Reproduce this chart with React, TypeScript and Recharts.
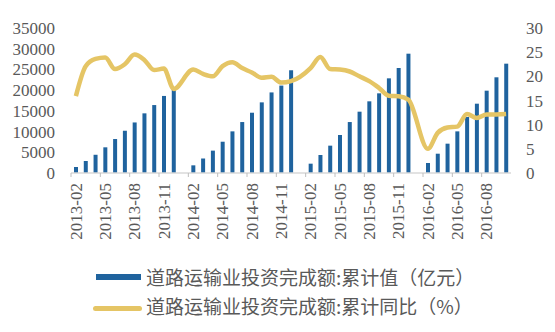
import { ComposedChart, Bar, Line, XAxis, YAxis } from 'recharts';

// 月份类目（每年 1 月无数据）
const months = [
  '2013-02', '2013-03', '2013-04', '2013-05', '2013-06', '2013-07', '2013-08', '2013-09', '2013-10', '2013-11', '2013-12',
  '2014-01', '2014-02', '2014-03', '2014-04', '2014-05', '2014-06', '2014-07', '2014-08', '2014-09', '2014-10', '2014-11', '2014-12',
  '2015-01', '2015-02', '2015-03', '2015-04', '2015-05', '2015-06', '2015-07', '2015-08', '2015-09', '2015-10', '2015-11', '2015-12',
  '2016-01', '2016-02', '2016-03', '2016-04', '2016-05', '2016-06', '2016-07', '2016-08', '2016-09', '2016-10',
];

// 累计值（亿元）
const cumValue = [
  1450, 2900, 4400, 6200, 8200, 10200, 12200, 14400, 16400, 18600, 20500,
  null, 1850, 3500, 5400, 7550, 10050, 12300, 14550, 17050, 19450, 21100, 24800,
  null, 2250, 4350, 6600, 9170, 12300, 14800, 17300, 19230, 22850, 25350, 28800,
  null, 2420, 4660, 7080, 10050, 13520, 16730, 19870, 23100, 26390,
];

// 累计同比（%）
const cumYoY = [
  15.9, 22.1, 23.6, 23.9, 21.5, 22.5, 24.5, 23.4, 21.3, 21.6, 17.4,
  null, 21.4, 20.5, 20.0, 22.1, 22.9, 21.7, 20.8, 19.7, 19.9, 18.7, 19.0,
  null, 21.7, 24.0, 21.5, 21.4, 21.0, 20.0, 19.0, 17.6, 16.0, 15.9, 15.2,
  null, 5.0, 8.3, 9.4, 9.6, 12.2, 11.4, 12.1, 12.1, 12.2,
];

const leftTicks = [0, 5000, 10000, 15000, 20000, 25000, 30000, 35000];
const rightTicks = [0, 5, 10, 15, 20, 25, 30];

const data = months.map((m, i) => ({ month: m, value: cumValue[i], yoy: cumYoY[i] }));

const BLUE = '#1F639E';
const GOLD = '#E5C565';
const GRAY = '#595959';
const AXIS_FONT = '"Liberation Serif", serif';
const CJK_FONT = '"Noto Sans CJK SC", sans-serif';

const PLOT_W = 440;
const band = PLOT_W / months.length;

function MonthTick(props: any) {
  const { x, y, payload } = props;
  return (
    <g>
      <line x1={x - band / 2} x2={x - band / 2} y1={y - 8} y2={y - 4} stroke="#BFBFBF" strokeWidth={1} />
      <text
        x={x}
        y={y + 2}
        transform={`rotate(-90, ${x}, ${y + 2})`}
        textAnchor="end"
        dy="0.35em"
        fill={GRAY}
        fontSize={17}
        fontFamily={AXIS_FONT}
      >
        {payload.value}
      </text>
    </g>
  );
}

export default function App() {
  return (
    <div style={{ position: 'fixed', left: 0, top: 0, width: 555, height: 332, background: '#fff' }}>
      <ComposedChart width={555} height={260} data={data} margin={{ top: 28, right: 0, bottom: 0, left: 0 }}>
        <XAxis
          dataKey="month"
          interval={2}
          height={87}
          tick={<MonthTick />}
          tickLine={false}
          axisLine={{ stroke: '#D9D9D9', strokeWidth: 1.5 }}
        />
        <YAxis
          yAxisId="left"
          width={71}
          domain={[0, 35000]}
          ticks={leftTicks}
          interval={0}
          axisLine={false}
          tickLine={false}
          tickMargin={10}
          tick={{ fill: GRAY, fontSize: 17, fontFamily: AXIS_FONT }}
        />
        <YAxis
          yAxisId="right"
          orientation="right"
          width={44}
          domain={[0, 30]}
          ticks={rightTicks}
          interval={0}
          axisLine={false}
          tickLine={false}
          tickMargin={9}
          tick={{ fill: GRAY, fontSize: 17, fontFamily: AXIS_FONT, textAnchor: 'start' }}
        />
        <Bar yAxisId="left" dataKey="value" fill={BLUE} barSize={4} isAnimationActive={false} />
        <Line
          yAxisId="right"
          type="monotone"
          dataKey="yoy"
          stroke={GOLD}
          strokeWidth={4.5}
          dot={false}
          connectNulls
          isAnimationActive={false}
        />
      </ComposedChart>
      <div style={{ position: 'absolute', left: 96, top: 274, width: 45, height: 6, background: BLUE }} />
      <div style={{ position: 'absolute', left: 146, top: 265, fontFamily: CJK_FONT, fontSize: 19, lineHeight: '24px', color: GRAY, whiteSpace: 'nowrap' }}>
        道路运输业投资完成额:累计值（亿元）
      </div>
      <div style={{ position: 'absolute', left: 93, top: 306, width: 49, height: 5, borderRadius: 3, background: GOLD }} />
      <div style={{ position: 'absolute', left: 146, top: 294, fontFamily: CJK_FONT, fontSize: 19, lineHeight: '24px', color: GRAY, whiteSpace: 'nowrap' }}>
        道路运输业投资完成额:累计同比（%）
      </div>
    </div>
  );
}
